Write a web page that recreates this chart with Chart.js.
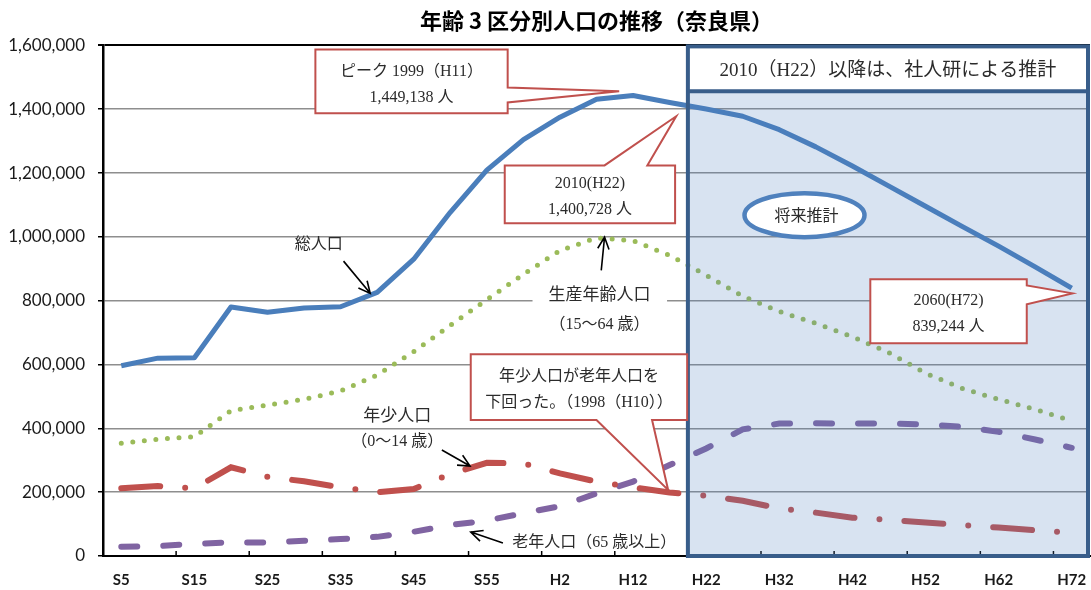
<!DOCTYPE html>
<html lang="ja">
<head>
<meta charset="utf-8">
<title>年齢3区分別人口の推移（奈良県）</title>
<script src="https://cdn.jsdelivr.net/npm/chart.js@4.4.1/dist/chart.umd.min.js"></script>
<style>
  html, body { margin: 0; padding: 0; background: #fff; }
  #wrap { width: 1091px; height: 590px; position: relative; }
</style>
</head>
<body>
<div id="wrap"><canvas id="popChart"></canvas></div>
<script>
// 国勢調査 + 社人研推計（5年ごと）
const periods = ['S5', 'S10', 'S15', 'S20', 'S25', 'S30', 'S35', 'S40', 'S45', 'S50', 'S55', 'S60',
  'H2', 'H7', 'H12', 'H17', 'H22', 'H27', 'H32', 'H37', 'H42', 'H47', 'H52', 'H57', 'H62', 'H67', 'H72'];

const totalPop = [596000, 620000, 621000, 780000, 764000, 777000, 781000, 826000, 930000, 1077000,
  1209000, 1305000, 1375000, 1431000, 1443000, 1421000, 1400728, 1378000, 1336000, 1282000,
  1222000, 1159000, 1096000, 1033000, 971000, 906000, 839244];

const workingPop = [353000, 366000, 374000, 455000, 473000, 491000, 517000, 567000, 640000, 723000,
  803000, 883000, 957000, 997000, 988000, 942000, 880000, 814000, 766000, 729000,
  687000, 637000, 573000, 525000, 491000, 459000, 424000];

const youngPop = [212000, 219000, 212000, 278000, 248000, 234000, 215000, 200000, 210000, 257000,
  292000, 290000, 259000, 233000, 215000, 199000, 189000, 173000, 149000, 136000,
  120000, 113000, 105000, 97000, 89000, 81000, 73000];

const elderlyPop = [29000, 31000, 38000, 43000, 42000, 48000, 53000, 60000, 76000, 97000,
  111000, 134000, 156000, 196000, 233000, 285000, 337000, 397000, 415000, 416000,
  415000, 415000, 412000, 405000, 389000, 365000, 339000];

const yTicks = [0, 200000, 400000, 600000, 800000, 1000000, 1200000, 1400000, 1600000];

// 2010(H22) 以降の推計区間（カテゴリ境界）
const forecastFrom = 15.5;

const serif = "'Liberation Serif', 'Noto Sans CJK JP', serif";
const textColor = '#2b2b2b';

// 吹き出し（x はカテゴリ位置、y は人口）
const callouts = [
  { box: [5.31, 1587000, 10.57, 1387000], side: 'right', base: [1468000, 1421000], tip: [13.62, 1456000],
    lines: ['ピーク 1999（H11）', '1,449,138 人'] },
  { box: [10.49, 1224000, 15.15, 1043000], side: 'top', base: [13.22, 14.39], tip: [15.18, 1378000],
    lines: ['2010(H22)', '1,400,728 人'] },
  { box: [20.49, 867000, 24.77, 667000], side: 'right', base: [848000, 789000], tip: [26.02, 823000],
    lines: ['2060(H72)', '839,244 人'] },
  { box: [9.56, 632000, 15.48, 426000], side: 'bottom', base: [13.0, 14.52], tip: [14.96, 207000],
    lines: ['年少人口が老年人口を', '下回った。（1998（H10））'] },
];

const labels = [
  { text: '総人口', at: [5.40, 974000], size: 16 },
  { text: '生産年齢人口', at: [13.08, 817000], size: 17 },
  { text: '（15～64 歳）', at: [13.08, 723000], size: 16 },
  { text: '年少人口', at: [7.55, 438000], size: 17 },
  { text: '（0～14 歳）', at: [7.55, 357000], size: 16 },
  { text: '老年人口（65 歳以上）', at: [12.94, 41000], size: 16 },
];

const arrows = [
  { from: [6.08, 924000], to: [6.81, 823000] },
  { from: [13.13, 895000], to: [13.22, 999000] },
  { from: [8.77, 332000], to: [9.54, 282000] },
  { from: [10.44, 41000], to: [9.56, 75000] },
];

function drawArrow(ctx, x1, y1, x2, y2) {
  const a = Math.atan2(y2 - y1, x2 - x1);
  const len = 13, spread = 0.45;
  ctx.beginPath();
  ctx.moveTo(x1, y1);
  ctx.lineTo(x2, y2);
  ctx.moveTo(x2 - len * Math.cos(a - spread), y2 - len * Math.sin(a - spread));
  ctx.lineTo(x2, y2);
  ctx.lineTo(x2 - len * Math.cos(a + spread), y2 - len * Math.sin(a + spread));
  ctx.stroke();
}

function calloutPath(ctx, c, X, Y) {
  const x1 = X(c.box[0]), y1 = Y(c.box[1]), x2 = X(c.box[2]), y2 = Y(c.box[3]);
  const tx = X(c.tip[0]), ty = Y(c.tip[1]);
  ctx.beginPath();
  ctx.moveTo(x1, y1);
  if (c.side === 'top') {
    ctx.lineTo(X(c.base[0]), y1); ctx.lineTo(tx, ty); ctx.lineTo(X(c.base[1]), y1);
  }
  ctx.lineTo(x2, y1);
  if (c.side === 'right') {
    ctx.lineTo(x2, Y(c.base[0])); ctx.lineTo(tx, ty); ctx.lineTo(x2, Y(c.base[1]));
  }
  ctx.lineTo(x2, y2);
  if (c.side === 'bottom') {
    ctx.lineTo(X(c.base[1]), y2); ctx.lineTo(tx, ty); ctx.lineTo(X(c.base[0]), y2);
  }
  ctx.lineTo(x1, y2);
  ctx.closePath();
}

const annotationPlugin = {
  id: 'annotations',
  afterDatasetsDraw(chart) {
    const { ctx, chartArea, scales } = chart;
    const X = v => scales.x.getPixelForValue(v);
    const Y = v => scales.y.getPixelForValue(v);
    ctx.save();

    // x軸の目盛（内向き、2カテゴリごと）
    ctx.strokeStyle = '#000';
    ctx.lineWidth = 1.5;
    for (let i = 2; i < periods.length; i += 2) {
      const x = X(i - 0.5);
      ctx.beginPath();
      ctx.moveTo(x, chartArea.bottom);
      ctx.lineTo(x, chartArea.bottom - 5);
      ctx.stroke();
    }

    // 推計区間の網掛けと枠
    const fx = X(forecastFrom);
    const right = chartArea.right - 2;
    ctx.fillStyle = 'rgba(79, 129, 189, 0.22)';
    ctx.fillRect(fx, chartArea.top, right - fx, chartArea.bottom - chartArea.top);

    const headBottom = Y(1456000);
    ctx.fillStyle = '#fff';
    ctx.fillRect(fx, chartArea.top, right - fx, headBottom - chartArea.top);
    ctx.strokeStyle = '#385d8a';
    ctx.lineWidth = 4;
    ctx.strokeRect(fx, chartArea.top + 1, right - fx, chartArea.bottom - chartArea.top - 1);
    ctx.beginPath();
    ctx.moveTo(fx, headBottom);
    ctx.lineTo(right, headBottom);
    ctx.stroke();

    ctx.fillStyle = textColor;
    ctx.textAlign = 'center';
    ctx.textBaseline = 'middle';
    ctx.font = '19px ' + serif;
    ctx.fillText('2010（H22）以降は、社人研による推計', (fx + right) / 2, (chartArea.top + headBottom) / 2 + 3);

    // 生産年齢人口ラベルの白地
    ctx.fillStyle = '#fff';
    ctx.fillRect(X(11.25), Y(864000), X(14.93) - X(11.25), Y(676000) - Y(864000));

    // 吹き出し
    callouts.forEach(c => {
      calloutPath(ctx, c, X, Y);
      ctx.fillStyle = '#fff';
      ctx.fill();
      ctx.strokeStyle = '#c0504d';
      ctx.lineWidth = 2;
      ctx.stroke();
      const cx = (X(c.box[0]) + X(c.box[2])) / 2;
      const cy = (Y(c.box[1]) + Y(c.box[3])) / 2 + 3;
      ctx.fillStyle = textColor;
      ctx.font = '16px ' + serif;
      c.lines.forEach((t, k) => {
        ctx.fillText(t, cx, cy + (k - (c.lines.length - 1) / 2) * 26);
      });
    });

    // 系列ラベル
    labels.forEach(l => {
      ctx.fillStyle = textColor;
      ctx.font = l.size + 'px ' + serif;
      ctx.fillText(l.text, X(l.at[0]), Y(l.at[1]));
    });

    // 矢印
    ctx.strokeStyle = '#000';
    ctx.lineWidth = 1.6;
    arrows.forEach(a => drawArrow(ctx, X(a.from[0]), Y(a.from[1]), X(a.to[0]), Y(a.to[1])));

    // 将来推計の楕円
    const ex = X(18.69), ey = Y(1068000);
    ctx.beginPath();
    ctx.ellipse(ex, ey, 60, 22, 0, 0, Math.PI * 2);
    ctx.fillStyle = '#fff';
    ctx.fill();
    ctx.strokeStyle = '#4f81bd';
    ctx.lineWidth = 4.5;
    ctx.stroke();
    ctx.fillStyle = textColor;
    ctx.font = '16px ' + serif;
    ctx.fillText('将来推計', ex + 2, ey + 2);

    ctx.restore();
  }
};

new Chart(document.getElementById('popChart'), {
  type: 'line',
  data: {
    labels: periods,
    datasets: [
      {
        label: '総人口',
        data: totalPop,
        borderColor: '#4a7ebb',
        borderWidth: 5,
        borderJoinStyle: 'round',
        pointRadius: 0,
        tension: 0,
      },
      {
        label: '生産年齢人口',
        data: workingPop,
        borderColor: '#9bbb59',
        borderWidth: 5,
        borderDash: [0, 11.6],
        borderCapStyle: 'round',
        pointRadius: 0,
        tension: 0,
      },
      {
        label: '年少人口',
        data: youngPop,
        borderColor: '#c0504d',
        borderWidth: 6,
        borderDash: [39, 25, 0, 25],
        borderCapStyle: 'round',
        pointRadius: 0,
        tension: 0,
      },
      {
        label: '老年人口',
        data: elderlyPop,
        borderColor: '#8064a2',
        borderWidth: 6,
        borderDash: [16, 26],
        borderCapStyle: 'round',
        pointRadius: 0,
        tension: 0,
      },
    ],
  },
  options: {
    responsive: true,
    maintainAspectRatio: false,
    animation: false,
    layout: { padding: { left: 0, right: 1, top: 0, bottom: 0 } },
    plugins: {
      legend: { display: false },
      tooltip: { enabled: false },
      title: {
        display: true,
        fullSize: false,
        text: '年齢 3 区分別人口の推移（奈良県）',
        color: '#000',
        font: { family: "'Noto Sans CJK JP'", size: 22, weight: 'bold' },
        padding: { top: 7, bottom: 12 },
      },
    },
    scales: {
      x: {
        offset: true,
        grid: { display: false, drawTicks: false },
        border: { display: true, color: '#000', width: 2 },
        ticks: {
          autoSkip: false,
          maxRotation: 0,
          padding: 15,
          color: '#1a1a1a',
          font: { family: 'Lato', size: 15, weight: 'bold' },
          callback: function (v, i) {
            return i % 2 === 0 ? periods[i] : null;
          },
        },
        afterFit: s => {
          s.height = 34;
          s.paddingLeft = 0;
          s.paddingRight = 0;
        },
      },
      y: {
        min: yTicks[0],
        max: yTicks[yTicks.length - 1],
        afterBuildTicks: s => { s.ticks = yTicks.map(v => ({ value: v })); },
        ticks: {
          padding: 13,
          color: '#1a1a1a',
          font: { family: 'Lato', size: 17 },
          callback: v => v.toLocaleString('en-US'),
        },
        grid: {
          color: c => (c.tick && (c.tick.value === 0 || c.tick.value === 1600000)) ? '#000' : '#8e8e8e',
          lineWidth: c => (c.tick && c.tick.value === 1600000) ? 2 : 1.5,
          tickColor: '#000',
          tickLength: 5,
        },
        border: { color: '#000', width: 2.5 },
        afterFit: s => { s.width = 103; },
      },
    },
  },
  plugins: [annotationPlugin],
});
</script>
</body>
</html>
